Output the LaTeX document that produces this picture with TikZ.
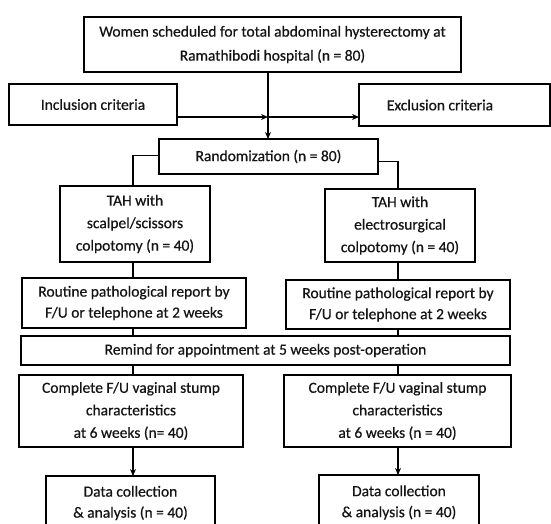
\documentclass[tikz,border=0pt]{standalone}
\usepackage{fontspec}
\setmainfont{Carlito}[FakeBold=0.6]
\usetikzlibrary{arrows.meta}
\begin{document}
\begin{tikzpicture}[x=1pt,y=1pt,
  box/.style={draw, line width=1.5pt, inner sep=0pt, outer sep=0pt, align=center, anchor=north west,
    font=\fontsize{15.5}{22.5}\selectfont, text=black!92},
  conn/.style={line width=1.6pt},
  arr/.style={line width=1.6pt, -{Stealth[length=7pt,width=6pt]}}]
\useasboundingbox (0,0) rectangle (551,-523);
% nodes
\node[box, minimum width=377pt, minimum height=55pt, font=\fontsize{15.5}{24}\selectfont] (top) at (84,-17)
  {Women scheduled for total abdominal hysterectomy at\\Ramathibodi hospital (n = 80)};
\node[box, minimum width=168pt, minimum height=41pt] (incl) at (9,-84) {Inclusion criteria};
\node[box, minimum width=191pt, minimum height=42pt] (excl) at (359,-84) {};
\node[font=\fontsize{15.5}{22.5}\selectfont, text=black!92, inner sep=0pt] (excltxt) at (440,-105) {Exclusion criteria};
\node[box, minimum width=219pt, minimum height=35pt] (rand) at (159,-139) {Randomization (n = 80)};
\node[box, minimum width=150pt, minimum height=76pt] (tahL) at (60,-186)
  {TAH with\\scalpel/scissors\\colpotomy (n = 40)};
\node[box, minimum width=150pt, minimum height=73pt] (tahR) at (325,-189)
  {TAH with\\electrosurgical\\colpotomy (n = 40)};
\node[box, minimum width=224pt, minimum height=50pt, font=\fontsize{15.5}{21}\selectfont] (routL) at (22,-278)
  {Routine pathological report by\\F/U or telephone at 2 weeks};
\node[box, minimum width=224pt, minimum height=49pt, font=\fontsize{15.5}{21}\selectfont] (routR) at (286,-280)
  {Routine pathological report by\\F/U or telephone at 2 weeks};
\node[box, minimum width=489pt, minimum height=29pt] (remind) at (21,-336)
  {Remind for appointment at 5 weeks post-operation};
\node[box, minimum width=224pt, minimum height=72pt] (compL) at (19,-375)
  {Complete F/U vaginal stump\\characteristics\\at 6 weeks (n= 40)};
\node[box, minimum width=227pt, minimum height=72pt] (compR) at (284,-375)
  {Complete F/U vaginal stump\\characteristics\\at 6 weeks (n = 40)};
\node[box, minimum width=169pt, minimum height=54pt, font=\fontsize{15.5}{21}\selectfont] (dataL) at (46,-476)
  {Data collection\\\& analysis (n = 40)};
\node[box, minimum width=160pt, minimum height=55pt, font=\fontsize{15.5}{21}\selectfont] (dataR) at (319,-475)
  {Data collection\\\& analysis (n = 40)};
% column coordinates
\coordinate (colL) at (133,0);
\coordinate (colR) at (398,0);
\coordinate (j) at (268,-117);
% connectors
\draw[arr] (top.south -| j) -- (rand.north -| j);
\draw[arr] (incl.east |- j) -- (j);
\draw[arr] (j) -- (j -| excl.west);
\draw[conn] ([yshift=1pt]rand.west) -| (tahL.north -| colL);
\draw[conn] ([yshift=-5pt]rand.east) -| (tahR.north -| colR);
\draw[conn] (tahL.south -| colL) -- (routL.north -| colL);
\draw[conn] (tahR.south -| colR) -- (routR.north -| colR);
\draw[conn] (routL.south -| colL) -- (remind.north -| colL);
\draw[conn] (routR.south -| colR) -- (remind.north -| colR);
\draw[conn] (remind.south -| colL) -- (compL.north -| colL);
\draw[conn] (remind.south -| colR) -- (compR.north -| colR);
\draw[arr] (compL.south -| colL) -- (dataL.north -| colL);
\draw[arr] (compR.south -| colR) -- (dataR.north -| colR);
\end{tikzpicture}
\end{document}
